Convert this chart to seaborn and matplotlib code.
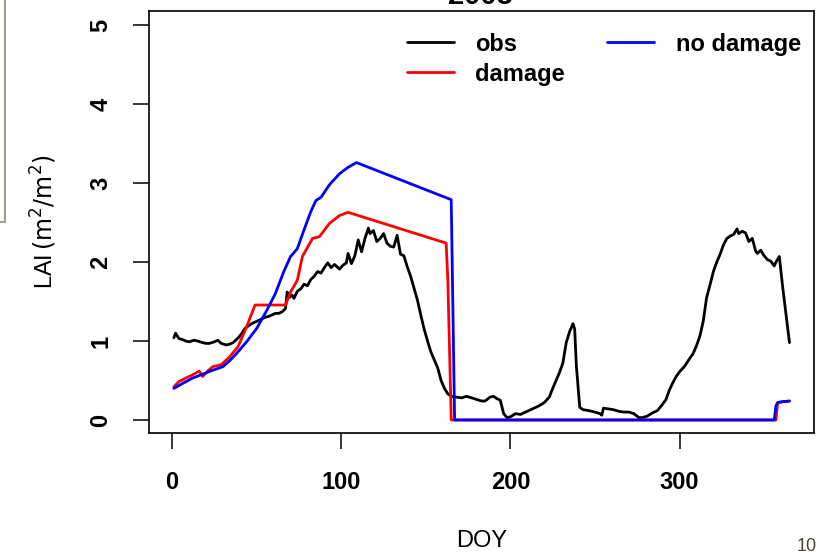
import matplotlib
matplotlib.use("Agg")
import matplotlib.pyplot as plt
import seaborn as sns
from matplotlib.lines import Line2D

doy_obs = [1, 2, 4, 6, 8, 10, 13, 15, 18, 20, 22, 25, 27, 29, 32, 34, 36, 39, 41, 43,
           45, 47, 50, 52, 55, 58, 61, 63, 65, 67, 68, 69, 71, 72, 74, 76, 78, 80, 82, 84,
           86, 88, 90, 92, 94, 96, 99, 101, 103, 104, 106, 108, 110, 112, 114, 116, 117, 119, 121, 123,
           125, 127, 129, 131, 133, 135, 137, 139, 141, 143, 145, 147, 149, 151, 153, 155, 157, 159, 161, 163,
           165, 168, 171, 174, 177, 180, 183, 185, 188, 190, 192, 194, 196, 198, 200, 203, 206, 208, 211, 214,
           217, 220, 223, 225, 227, 229, 231, 233, 235, 237, 238, 239, 241, 243, 246, 250, 253, 254, 255, 258,
           261, 264, 267, 270, 273, 276, 278, 281, 284, 287, 290, 292, 294, 296, 298, 300, 303, 306, 308, 310,
           312, 314, 316, 318, 320, 322, 324, 326, 328, 330, 332, 334, 335, 337, 339, 341, 343, 345, 346, 348,
           350, 352, 354, 356, 357, 359, 361, 363, 365]
lai_obs = [1.04, 1.10, 1.03, 1.02, 1.00, 0.99, 1.01, 1.00, 0.98, 0.97, 0.97, 0.99, 1.01, 0.97, 0.95, 0.96, 0.98, 1.04, 1.09, 1.16,
           1.19, 1.22, 1.25, 1.27, 1.30, 1.32, 1.35, 1.35, 1.37, 1.41, 1.62, 1.55, 1.58, 1.54, 1.63, 1.66, 1.72, 1.70, 1.78, 1.82,
           1.88, 1.86, 1.93, 1.99, 1.93, 1.97, 1.91, 1.96, 1.99, 2.11, 1.98, 2.08, 2.28, 2.13, 2.30, 2.43, 2.36, 2.40, 2.26, 2.30,
           2.36, 2.24, 2.20, 2.19, 2.34, 2.10, 2.08, 1.94, 1.82, 1.67, 1.52, 1.33, 1.15, 1.00, 0.86, 0.76, 0.66, 0.50, 0.40, 0.33,
           0.30, 0.29, 0.28, 0.30, 0.28, 0.26, 0.24, 0.24, 0.29, 0.30, 0.27, 0.25, 0.08, 0.03, 0.04, 0.08, 0.07, 0.09, 0.12, 0.15,
           0.18, 0.22, 0.29, 0.40, 0.50, 0.60, 0.72, 0.98, 1.12, 1.22, 1.15, 0.68, 0.16, 0.13, 0.12, 0.10, 0.08, 0.06, 0.15, 0.14,
           0.13, 0.11, 0.10, 0.10, 0.08, 0.03, 0.03, 0.05, 0.09, 0.12, 0.20, 0.26, 0.38, 0.47, 0.55, 0.61, 0.68, 0.78, 0.84, 0.94,
           1.06, 1.25, 1.55, 1.71, 1.88, 2.00, 2.10, 2.22, 2.30, 2.33, 2.35, 2.42, 2.36, 2.39, 2.37, 2.26, 2.30, 2.14, 2.11, 2.15,
           2.08, 2.03, 2.01, 1.95, 2.00, 2.07, 1.68, 1.33, 0.98]

# modelled LAI with damage
doy_dmg = [1, 4, 8, 12, 16, 18, 21, 24, 29, 34, 39, 44, 49, 67, 70, 74, 77, 83, 87, 93,
           99, 104, 162, 163, 165, 357, 358, 365]
lai_dmg = [0.42, 0.485, 0.53, 0.57, 0.62, 0.55, 0.62, 0.675, 0.70, 0.80, 0.93, 1.18, 1.456, 1.456, 1.62, 1.77, 2.07, 2.30, 2.32, 2.49,
           2.59, 2.63, 2.24, 1.77, 0.0, 0.0, 0.22, 0.24]

# modelled LAI without damage
doy_nodmg = [1, 6, 12, 18, 24, 30, 34, 38, 44, 50, 56, 61, 66, 70, 74, 78, 82, 85, 88, 93,
             99, 104, 109, 165, 167, 356, 357, 358, 360, 365]
lai_nodmg = [0.40, 0.46, 0.53, 0.58, 0.63, 0.675, 0.75, 0.84, 0.99, 1.16, 1.39, 1.60, 1.88, 2.07, 2.17, 2.41, 2.64, 2.78, 2.82, 2.98,
             3.12, 3.20, 3.26, 2.79, 0.0, 0.0, 0.18, 0.22, 0.23, 0.24]

y_ticks = [0, 1, 2, 3, 4, 5]
x_ticks = [0, 100, 200, 300]

sns.set_style("ticks")
plt.rcParams['font.family'] = ['Liberation Sans', 'DejaVu Sans']
plt.rcParams.update({'text.color': 'black', 'axes.labelcolor': 'black',
                     'xtick.color': 'black', 'ytick.color': 'black'})

W, H = 821, 552
fig = plt.figure(figsize=(W / 100, H / 100), dpi=100)
ax = fig.add_axes([149 / W, 1 - 433 / H, (814 - 149) / W, (433 - 11) / H])

sns.lineplot(x=doy_obs, y=lai_obs, color='black', lw=2, ax=ax, estimator=None, sort=False)
sns.lineplot(x=doy_dmg, y=lai_dmg, color='#ff0000', lw=2, ax=ax, estimator=None, sort=False)
sns.lineplot(x=doy_nodmg, y=lai_nodmg, color='#0000ff', lw=2, ax=ax, estimator=None, sort=False)

ax.set_xlim(-13.7, 379.5)
ax.set_ylim(-0.165, 5.18)
ax.set_xticks(x_ticks)
ax.set_yticks(y_ticks)
ax.set_xticklabels([str(t) for t in x_ticks], fontsize=17, fontweight='bold')
ax.set_yticklabels([str(t) for t in y_ticks], fontsize=17, fontweight='bold',
                   rotation=90, va='center')
ax.tick_params(axis='both', length=11.5, width=1.1, color='black')
ax.tick_params(axis='x', pad=16)
ax.tick_params(axis='y', pad=15)
for s in ax.spines.values():
    s.set_visible(True)
    s.set_linewidth(1.2)
    s.set_color('black')

ax.set_xlabel('')
ax.set_ylabel(r'LAI$\,(\mathrm{m}^2/\mathrm{m}^2)$', fontsize=17, labelpad=22)

handles = [Line2D([], [], color='black', lw=2),
           Line2D([], [], color='#ff0000', lw=2),
           Line2D([], [], color='#0000ff', lw=2)]
leg = ax.legend(handles, ['obs', 'damage', 'no damage'], ncol=2, frameon=False,
                loc='upper right', bbox_to_anchor=(1.012, 0.999),
                prop={'size': 17, 'weight': 'bold'}, handlelength=2.0,
                handletextpad=0.9, columnspacing=1.8, labelspacing=0.3)

fig.text(481.5 / W, 1 - 541 / H, 'DOY', ha='center', va='center', fontsize=17)
# title sits mostly above the visible area, as in the screenshot
fig.text(480 / W, 1 - 4 / H, '2005', ha='center', va='baseline', fontsize=21, fontweight='bold')
# slide page number
fig.text(817 / W, 1 - 538 / H, '10', ha='right', va='top', fontsize=13,
         color='#4a4636')

# the edge of a box at the left of the slide
fig.add_artist(Line2D([5 / W, 5 / W], [1.0, 1 - 222 / H], color='#a39d82', lw=1.5))
fig.add_artist(Line2D([0, 5 / W], [1 - 222 / H, 1 - 222 / H], color='#a39d82', lw=1.5))

fig.savefig('out.png', dpi=100)
